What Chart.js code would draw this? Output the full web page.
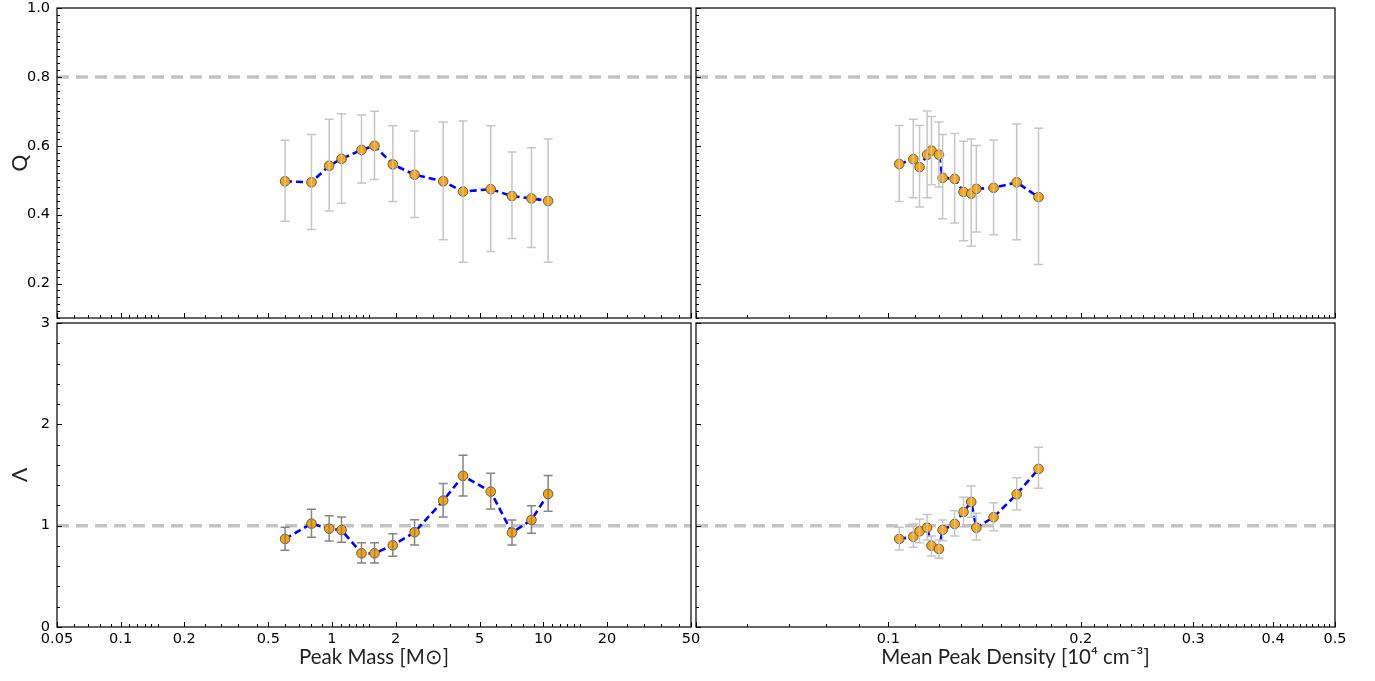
<!DOCTYPE html>
<html>
<head>
<meta charset="utf-8">
<script src="https://cdn.jsdelivr.net/npm/chart.js@4.4.0/dist/chart.umd.min.js"></script>
<style>
  body { margin: 0; background: #fff; }
  #wrap { position: relative; width: 1375px; height: 681px; }
  #wrap canvas { position: absolute; left: 0; top: 0; }
</style>
</head>
<body>
<div id="wrap">
  <canvas id="qMassChart" width="1375" height="681"></canvas>
  <canvas id="lamMassChart" width="1375" height="681"></canvas>
  <canvas id="qDensChart" width="1375" height="681"></canvas>
  <canvas id="lamDensChart" width="1375" height="681"></canvas>
</div>
<script>
// peak mass bins [Msun]
const mass = [0.60, 0.80, 0.97, 1.11, 1.38, 1.59, 1.94, 2.46, 3.36, 4.17, 5.64, 7.11, 8.79, 10.54];
const qMass   = [0.497, 0.494, 0.542, 0.562, 0.588, 0.600, 0.546, 0.516, 0.497, 0.467, 0.474, 0.454, 0.447, 0.440];
const qMassLo = [0.381, 0.357, 0.411, 0.433, 0.492, 0.502, 0.438, 0.392, 0.327, 0.262, 0.293, 0.331, 0.305, 0.262];
const qMassHi = [0.616, 0.633, 0.677, 0.693, 0.689, 0.700, 0.658, 0.643, 0.669, 0.672, 0.658, 0.582, 0.594, 0.620];
const lamMass   = [0.869, 1.020, 0.970, 0.957, 0.727, 0.727, 0.806, 0.935, 1.247, 1.491, 1.336, 0.931, 1.056, 1.313];
const lamMassLo = [0.757, 0.885, 0.849, 0.836, 0.632, 0.632, 0.698, 0.809, 1.086, 1.293, 1.165, 0.809, 0.925, 1.142];
const lamMassHi = [0.984, 1.162, 1.099, 1.086, 0.832, 0.832, 0.921, 1.059, 1.415, 1.695, 1.517, 1.056, 1.197, 1.494];

// mean peak density [1e4 cm^-3]
const density = [0.1040, 0.1094, 0.1119, 0.1150, 0.1168, 0.1200, 0.1216, 0.1270, 0.1311, 0.1348, 0.1373, 0.1461, 0.1588, 0.1718];
const qDens   = [0.547, 0.561, 0.538, 0.574, 0.586, 0.574, 0.507, 0.504, 0.466, 0.461, 0.475, 0.478, 0.494, 0.451];
const qDensLo = [0.438, 0.449, 0.422, 0.449, 0.487, 0.480, 0.388, 0.376, 0.324, 0.308, 0.350, 0.342, 0.327, 0.255];
const qDensHi = [0.659, 0.677, 0.659, 0.701, 0.685, 0.669, 0.633, 0.636, 0.613, 0.620, 0.601, 0.617, 0.663, 0.651];
const lamDens   = [0.869, 0.891, 0.945, 0.980, 0.803, 0.770, 0.958, 1.017, 1.135, 1.234, 0.980, 1.083, 1.310, 1.560];
const lamDensLo = [0.760, 0.787, 0.832, 0.859, 0.701, 0.678, 0.852, 0.898, 0.990, 1.083, 0.859, 0.951, 1.155, 1.369];
const lamDensHi = [0.984, 1.017, 1.063, 1.109, 0.898, 0.859, 1.056, 1.148, 1.280, 1.392, 1.122, 1.227, 1.474, 1.774];

// reference levels
const qRef = 0.8;
const lamRef = 1;

// tick labels
const massTickLabels = [0.05, 0.1, 0.2, 0.5, 1, 2, 5, 10, 20, 50];
const massMinorSteps = [1.1, 1.2, 1.3, 1.4, 1.5, 2.5, 3, 3.6, 4.4, 6, 7, 8, 9];
const densityTickLabels = [0.1, 0.2, 0.3, 0.4, 0.5];
const qTickLabels = [0.2, 0.4, 0.6, 0.8, 1.0];
const lamTickLabels = [0, 1, 2, 3];

const r2 = v => Math.round(v * 1e4) / 1e4;

// full tick lists (labelled + minor), built once
const massTicks = (() => {
  const out = massTickLabels.slice();
  [0.01, 0.1, 1, 10].forEach(d => massMinorSteps.forEach(s => {
    const v = r2(s * d);
    if (v > 0.05 && v < 50 && !out.includes(v)) out.push(v);
  }));
  return out.sort((a, b) => a - b);
})();
const densityTicks = (() => {
  const out = [];
  for (let i = 5; i <= 50; i++) out.push(r2(i / 100));
  return out;
})();
const qTicks = (() => {
  const out = [];
  for (let i = 5; i <= 50; i++) out.push(r2(i * 0.02));
  return out;
})();
const lamTicks = (() => {
  const out = [];
  for (let i = 0; i <= 15; i++) out.push(r2(i * 0.2));
  return out;
})();

Chart.defaults.font.family = '"DejaVu Sans", sans-serif';
Chart.defaults.color = '#000';

const W = 1375, H = 681;

// inward ticks, frame and error bars for one panel
const makeDecor = (p) => ({
  id: 'decor_' + p.id,
  afterDatasetsDraw(chart) {
    const { ctx } = chart;
    const xs = chart.scales.x, ys = chart.scales.y;
    ctx.save();
    ctx.strokeStyle = p.errColor;
    ctx.lineWidth = 1.5;
    p.xs.forEach((xv, i) => {
      const px = xs.getPixelForValue(xv);
      const top = ys.getPixelForValue(p.hi[i]);
      const bot = ys.getPixelForValue(p.lo[i]);
      ctx.beginPath();
      ctx.moveTo(px, top); ctx.lineTo(px, bot);
      ctx.moveTo(px - 4.5, top); ctx.lineTo(px + 4.5, top);
      ctx.moveTo(px - 4.5, bot); ctx.lineTo(px + 4.5, bot);
      ctx.stroke();
    });
    ctx.restore();
  },
  afterDraw(chart) {
    const { ctx, chartArea: a } = chart;
    const xs = chart.scales.x, ys = chart.scales.y;
    ctx.save();
    ctx.strokeStyle = '#000';
    ctx.lineWidth = 1;
    ctx.beginPath();
    xs.ticks.forEach(t => {
      const px = Math.round(xs.getPixelForValue(t.value)) + 0.5;
      const len = p.xMajor.includes(t.value) ? 5 : 3;
      ctx.moveTo(px, a.bottom); ctx.lineTo(px, a.bottom - len);
    });
    ys.ticks.forEach(t => {
      const py = Math.round(ys.getPixelForValue(t.value)) + 0.5;
      const len = p.yMajor.includes(t.value) ? 5 : 3;
      ctx.moveTo(a.left, py); ctx.lineTo(a.left + len, py);
    });
    ctx.stroke();
    ctx.lineWidth = 1.2;
    ctx.strokeRect(a.left, a.top, a.right - a.left, a.bottom - a.top);
    ctx.restore();
  }
});

function makePanel(p) {
  const pts = p.xs.map((x, i) => ({ x, y: p.ys[i] }));
  const ref = [{ x: p.xMin, y: p.ref }, { x: p.xMax, y: p.ref }];
  return new Chart(document.getElementById(p.id), {
    type: 'scatter',
    data: {
      datasets: [
        {
          data: pts,
          showLine: true,
          borderColor: '#0000ff',
          borderWidth: 2.6,
          borderDash: [7, 4],
          pointRadius: 4.8,
          pointBackgroundColor: '#ffa500',
          pointBorderColor: '#5a5a5a',
          pointBorderWidth: 1
        },
        {
          data: ref,
          showLine: true,
          borderColor: '#c3c3c3',
          borderWidth: 3.5,
          borderDash: [12, 7],
          pointRadius: 0
        }
      ]
    },
    options: {
      responsive: false,
      animation: false,
      events: [],
      layout: { padding: { left: 0, top: p.box.top, right: W - p.box.right, bottom: 0 } },
      plugins: { legend: { display: false }, tooltip: { enabled: false } },
      scales: {
        x: {
          type: 'logarithmic',
          min: p.xMin,
          max: p.xMax,
          grid: { display: false, drawTicks: false },
          border: { display: false },
          afterBuildTicks: s => { s.ticks = p.xTicks.map(v => ({ value: v })); },
          afterFit: s => { s.height = H - p.box.bottom; s.paddingLeft = 0; s.paddingRight = 0; },
          ticks: {
            display: p.showX,
            autoSkip: false,
            maxRotation: 0,
            padding: 4,
            font: { size: 14.5 },
            callback: v => (p.xLabels.includes(v) ? String(v) : '')
          },
          title: {
            display: p.showX,
            text: p.xTitle,
            font: { family: 'Lato, sans-serif', size: 20.5 },
            color: '#222',
            padding: { top: 0, bottom: 11 }
          }
        },
        y: {
          type: 'linear',
          min: p.yMin,
          max: p.yMax,
          grid: { display: false, drawTicks: false },
          border: { display: false },
          afterBuildTicks: s => { s.ticks = p.yTicks.map(v => ({ value: v })); },
          afterFit: s => { s.width = p.box.left; s.paddingTop = 0; s.paddingBottom = 0; },
          ticks: {
            display: p.showY,
            autoSkip: false,
            padding: 7,
            font: { size: 14.5 },
            callback: v => (p.yMajor.includes(v) ? p.fmtY(v) : '')
          },
          title: {
            display: p.showY,
            text: p.yTitle,
            font: { family: 'Lato, sans-serif', size: 21 },
            color: '#222',
            padding: { top: 8, bottom: 0 }
          }
        }
      }
    },
    plugins: [makeDecor(p)]
  });
}

const leftBox = { left: 57, right: 691 };
const rightBox = { left: 696, right: 1335 };
const topBox = { top: 8, bottom: 318 };
const botBox = { top: 323, bottom: 627 };

const massAxis = { xMin: 0.05, xMax: 50, xTicks: massTicks, xLabels: massTickLabels, xMajor: massTickLabels, xTitle: 'Peak Mass [M\u2299]' };
const densAxis = { xMin: 0.05, xMax: 0.5, xTicks: densityTicks, xLabels: densityTickLabels, xMajor: densityTickLabels.concat([0.05]), xTitle: 'Mean Peak Density [10\u2074 cm\u207B\u00B3]' };
const qAxis = { yMin: 0.1, yMax: 1.0, yTicks: qTicks, yMajor: qTickLabels, fmtY: v => v.toFixed(1), yTitle: 'Q', ref: qRef };
const lamAxis = { yMin: 0, yMax: 3, yTicks: lamTicks, yMajor: lamTickLabels, fmtY: v => String(v), yTitle: '\u039B', ref: lamRef };

makePanel(Object.assign({ id: 'qMassChart', xs: mass, ys: qMass, lo: qMassLo, hi: qMassHi, errColor: '#c6c6c6',
  box: Object.assign({}, leftBox, topBox), showX: false, showY: true }, massAxis, qAxis));
makePanel(Object.assign({ id: 'lamMassChart', xs: mass, ys: lamMass, lo: lamMassLo, hi: lamMassHi, errColor: '#858585',
  box: Object.assign({}, leftBox, botBox), showX: true, showY: true }, massAxis, lamAxis));
makePanel(Object.assign({ id: 'qDensChart', xs: density, ys: qDens, lo: qDensLo, hi: qDensHi, errColor: '#c6c6c6',
  box: Object.assign({}, rightBox, topBox), showX: false, showY: false }, densAxis, qAxis));
makePanel(Object.assign({ id: 'lamDensChart', xs: density, ys: lamDens, lo: lamDensLo, hi: lamDensHi, errColor: '#c6c6c6',
  box: Object.assign({}, rightBox, botBox), showX: true, showY: false }, densAxis, lamAxis));
</script>
</body>
</html>
